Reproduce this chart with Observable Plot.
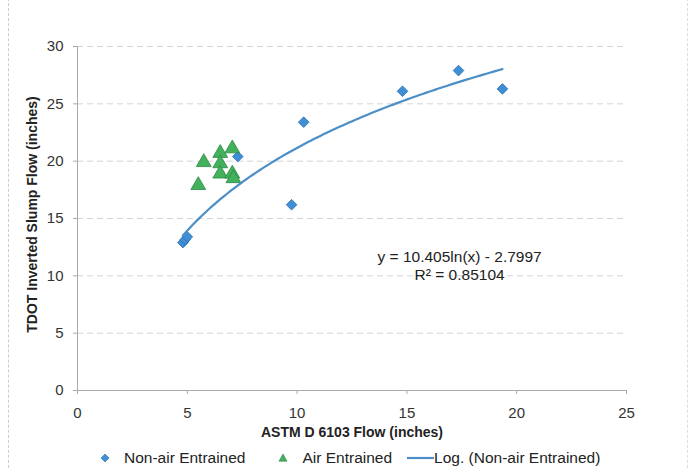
<!DOCTYPE html>
<html>
<head>
<meta charset="utf-8">
<script src="https://cdn.jsdelivr.net/npm/d3@7"></script>
<script src="https://cdn.jsdelivr.net/npm/@observablehq/plot@0.6"></script>
<style>
  html, body { margin: 0; padding: 0; background: #fff; }
  body { width: 691px; height: 469px; overflow: hidden; font-family: "Liberation Sans", Arial, sans-serif; position: relative; }
  #chart svg { display: block; }
  #legend { position: absolute; left: 0; top: 447px; width: 691px; height: 22px; display: flex; align-items: center; font-size: 15.5px; color: #222; }
  #legend .item { display: flex; align-items: center; }
  #frame { position: absolute; left: 8px; top: -2px; width: 678px; height: 480px; border-left: 1px dashed #ccc; border-right: 1px dashed #ddd; pointer-events: none; }
</style>
</head>
<body>
<div id="chart"></div>
<div id="legend"></div>
<div id="frame"></div>
<script>
// ---- data ----
const nonAirX = [4.8, 4.9, 5.0, 7.3, 9.75, 10.3, 14.8, 17.35, 19.35];
const nonAirY = [12.9, 13.15, 13.4, 20.4, 16.2, 23.4, 26.1, 27.9, 26.3];
const airX = [5.5, 5.75, 6.5, 6.5, 6.5, 7.05, 7.05, 7.1];
const airY = [17.9, 19.9, 20.7, 19.8, 18.9, 21.1, 18.9, 18.5];
// trendline from the chart's printed equation: y = a ln(x) + b
const fitA = 10.405;
const fitB = -2.7997;
const fitR2 = "0.85104";
const xTicks = [0, 5, 10, 15, 20, 25];
const yTicks = [0, 5, 10, 15, 20, 25, 30];
const seriesNames = ["Non-air Entrained", "Air Entrained", "Log. (Non-air Entrained)"];

const blue = "#3f8fd6", blueStroke = "#2e6fae";
const green = "#43b05c", greenStroke = "#2d8a45";
const lineColor = "#4b8fc6";

const nonAir = nonAirX.map((x, i) => ({x, y: nonAirY[i]}));
const air = airX.map((x, i) => ({x, y: airY[i]}));
const xmin = d3.min(nonAirX), xmax = d3.max(nonAirX);
const curve = d3.range(0, 101).map(i => {
  const x = xmin + (xmax - xmin) * i / 100;
  return {x, y: fitA * Math.log(x) + fitB};
});

const chart = Plot.plot({
  width: 691,
  height: 446,
  marginLeft: 77,
  marginRight: 65,
  marginTop: 46,
  marginBottom: 56,
  style: {fontFamily: "Liberation Sans, Arial, sans-serif", fontSize: "15px", color: "#333", background: "#fff"},
  x: {domain: [0, 25], ticks: xTicks, label: null},
  y: {domain: [0, 30], ticks: yTicks, label: null},
  marks: [
    Plot.gridY(yTicks.filter(d => d > 0), {stroke: "#d4d4d4", strokeOpacity: 1, strokeDasharray: "6,4"}),
    Plot.ruleY([0], {stroke: "#aaa"}),
    Plot.ruleX([0], {stroke: "#aaa"}),
    Plot.axisX({ticks: xTicks, tickSize: 4, tickPadding: 13, stroke: "#aaa", fill: "#333", label: null}),
    Plot.axisY({ticks: yTicks, tickSize: 4, tickPadding: 10, stroke: "#aaa", fill: "#333", label: null}),
    Plot.dot(nonAir, {x: "x", y: "y", symbol: "diamond2", r: 4.8, fill: blue, stroke: blueStroke, strokeWidth: 0.8}),
    Plot.dot(air, {x: "x", y: "y", symbol: "triangle", r: 5.5, fill: green, stroke: greenStroke, strokeWidth: 0.8}),
    Plot.line(curve, {x: "x", y: "y", stroke: lineColor, strokeWidth: 2.2}),
    Plot.text([`y = ${fitA}ln(x) - ${Math.abs(fitB)}`], {x: 17.4, y: 11.65, fontSize: 15.5, fill: "#222"}),
    Plot.text([`R² = ${fitR2}`], {x: 17.4, y: 10.1, fontSize: 15.5, fill: "#222"}),
    Plot.text(["TDOT Inverted Slump Flow (inches)"], {frameAnchor: "left", textAnchor: "middle", dx: -45, dy: -4, rotate: -90, fontSize: 14, fontWeight: "bold", fill: "#222"}),
    Plot.text(["ASTM D 6103 Flow (inches)"], {frameAnchor: "bottom", dy: 46, fontSize: 14, fontWeight: "bold", fill: "#222"})
  ]
});
document.getElementById("chart").appendChild(chart);

// legend
const legend = document.getElementById("legend");
const icons = [
  `<svg width="10" height="10" viewBox="-5 -5 10 10"><path d="M0,-4L4,0L0,4L-4,0Z" fill="${blue}" stroke="${blueStroke}" stroke-width="0.6"/></svg>`,
  `<svg width="10" height="10" viewBox="-5 -5 10 10"><path d="M0,-4L4,3.2L-4,3.2Z" fill="${green}" stroke="${greenStroke}" stroke-width="0.6"/></svg>`,
  `<svg width="27" height="6" viewBox="0 0 27 6"><line x1="0" y1="3" x2="27" y2="3" stroke="${lineColor}" stroke-width="2.2"/></svg>`
];
const layout = [{pad: 100, gap: 14}, {pad: 33, gap: 14}, {pad: 15, gap: 0}];
seriesNames.forEach((name, i) => {
  const it = document.createElement("div");
  it.className = "item";
  it.style.marginLeft = layout[i].pad + "px";
  it.innerHTML = icons[i] + `<span style="margin-left:${layout[i].gap}px">${name}</span>`;
  legend.appendChild(it);
});
</script>
</body>
</html>
